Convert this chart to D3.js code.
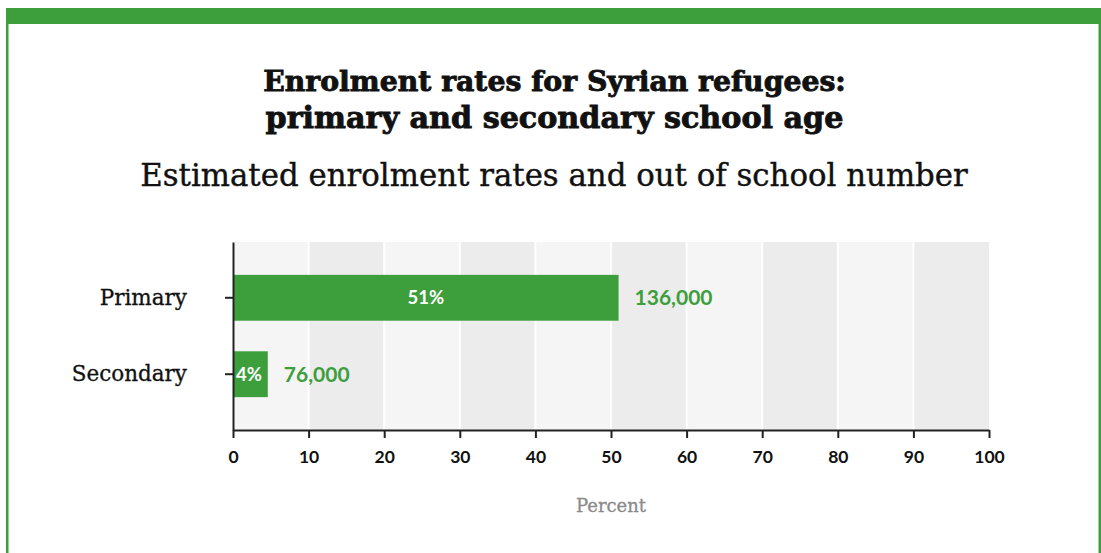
<!DOCTYPE html>
<html><head><meta charset="utf-8">
<script src="https://cdn.jsdelivr.net/npm/d3@7"></script>
<style>body{margin:0;background:#fff;}svg{display:block;}</style>
</head><body>
<svg id="c" width="1101" height="553"></svg>
<script>
const categories = ["Primary", "Secondary"];
const enrolmentRates = [51, 4.6];
const rateLabels = ["51%", "4%"];
const outOfSchool = ["136,000", "76,000"];
const xTicks = [0,10,20,30,40,50,60,70,80,90,100];
const titleLines = ["Enrolment rates for Syrian refugees:", "primary and secondary school age"];
const subtitle = "Estimated enrolment rates and out of school number";
const xAxisTitle = "Percent";

const green = "#3d9e3c";
const svg = d3.select("#c");
const W = 1101, H = 553;

// frame
svg.append("rect").attr("x",6).attr("y",8).attr("width",W-6).attr("height",16).attr("fill",green);
svg.append("rect").attr("x",6).attr("y",8).attr("width",2.5).attr("height",H-8).attr("fill",green);
svg.append("rect").attr("x",W-2.5).attr("y",8).attr("width",2.5).attr("height",H-8).attr("fill",green);

function fitText(sel, target){
  const w = sel.node().getComputedTextLength();
  const fs = parseFloat(sel.attr("font-size"));
  sel.attr("font-size", fs*target/w);
}

const serif = "'DejaVu Serif', serif";
const t1 = svg.append("text").attr("x",554.5).attr("y",91).attr("text-anchor","middle")
  .attr("font-family",serif).attr("font-weight","bold").attr("font-size",28).attr("fill","#111")
  .attr("stroke","#111").attr("stroke-width",0.9).text(titleLines[0]);
fitText(t1,583);
const t2 = svg.append("text").attr("x",554.5).attr("y",128).attr("text-anchor","middle")
  .attr("font-family",serif).attr("font-weight","bold").attr("font-size",28).attr("fill","#111")
  .attr("stroke","#111").attr("stroke-width",0.9).text(titleLines[1]);
fitText(t2,578);
const st = svg.append("text").attr("x",554).attr("y",186).attr("text-anchor","middle")
  .attr("font-family",serif).attr("font-size",24).attr("fill","#111").attr("stroke","#111").attr("stroke-width",0.4).text(subtitle);
fitText(st,828);

const x = d3.scaleLinear().domain([0,100]).range([233,989]);
const y = d3.scaleBand().domain(categories).range([242,430]).paddingInner(0.4).paddingOuter(0.43);

// background bands
const g = svg.append("g");
g.selectAll("rect.band").data(xTicks.slice(0,-1)).join("rect")
  .attr("x",d=>x(d)).attr("y",242).attr("width",d=>x(d+10)-x(d)).attr("height",430-242)
  .attr("fill",(d,i)=> i%2===0 ? "#f5f5f5" : "#ececec");
g.selectAll("line.grid").data(xTicks.slice(1,-1)).join("line")
  .attr("x1",d=>x(d)).attr("x2",d=>x(d)).attr("y1",242).attr("y2",430)
  .attr("stroke","#fff").attr("stroke-width",2);

// bars
const data = categories.map((c,i)=>({c, v:enrolmentRates[i], l:rateLabels[i], n:outOfSchool[i]}));
g.selectAll("rect.bar").data(data).join("rect")
  .attr("x",x(0)).attr("y",d=>y(d.c)).attr("width",d=>x(d.v)-x(0)).attr("height",y.bandwidth())
  .attr("fill",green);

const sans = "'Lato', 'Open Sans', sans-serif";
g.selectAll("text.pct").data(data).join("text")
  .attr("x",d=> d.v>10 ? (x(0)+x(d.v))/2 : x(0)+3)
  .attr("text-anchor",d=> d.v>10 ? "middle":"start")
  .attr("y",d=>y(d.c)+y.bandwidth()/2).attr("dy","0.35em")
  .attr("font-family",sans).attr("font-weight","bold").attr("font-size",18.5).attr("fill","#fff")
  .text(d=>d.l);
g.selectAll("text.num").data(data).join("text")
  .attr("x",d=>x(d.v)+16)
  .attr("y",d=>y(d.c)+y.bandwidth()/2).attr("dy","0.35em")
  .attr("font-family",sans).attr("font-weight","bold").attr("font-size",21).attr("fill",green)
  .text(d=>d.n);

// axes
const xAxis = svg.append("g").attr("transform","translate(0,430)")
  .call(d3.axisBottom(x).tickValues(xTicks).tickSize(8).tickSizeOuter(0).tickPadding(13).tickFormat(d3.format("d")));
xAxis.select(".domain").attr("stroke","#222").attr("stroke-width",2);
xAxis.selectAll(".tick line").attr("stroke","#222").attr("stroke-width",2);
xAxis.selectAll(".tick text").attr("font-family",sans).attr("font-weight","bold").attr("font-size",17.5).attr("fill","#111");

const yAxis = svg.append("g").attr("transform","translate(233,0)")
  .call(d3.axisLeft(y).tickSize(8).tickSizeOuter(0).tickPadding(38));
yAxis.select(".domain").attr("stroke","#222").attr("stroke-width",2);
yAxis.selectAll(".tick line").attr("stroke","#222").attr("stroke-width",2);
yAxis.selectAll(".tick text").attr("font-family",serif).attr("font-size",21.5).attr("fill","#111").attr("stroke","#111").attr("stroke-width",0.3);

const xt = svg.append("text").attr("x",611).attr("y",512).attr("text-anchor","middle")
  .attr("font-family",serif).attr("font-size",15).attr("fill","#8a8a8a")
  .attr("stroke","#8a8a8a").attr("stroke-width",0.3).text(xAxisTitle);
fitText(xt,70);
</script>
</body></html>
